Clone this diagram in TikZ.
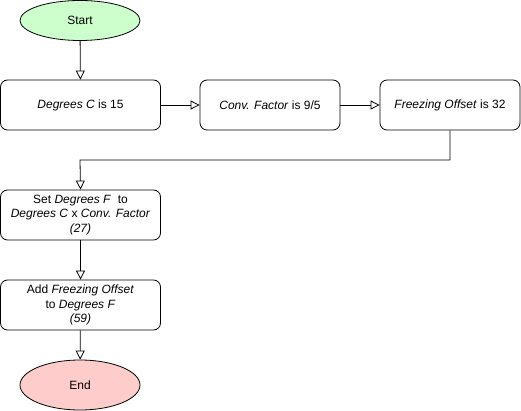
\documentclass[tikz,border=0pt]{standalone}
\usepackage{fontspec}
\setmainfont{Liberation Sans}
\usetikzlibrary{arrows.meta,shapes.geometric}
\definecolor{startfill}{HTML}{CCFFCC}
\definecolor{endfill}{HTML}{FFCCCC}
\begin{document}
\begin{tikzpicture}[x=1pt,y=-1pt,
  every node/.style={font=\fontsize{12}{14.5}\selectfont, inner sep=0pt},
  terminal/.style={ellipse, draw=black, line width=0.8pt, minimum width=120pt, minimum height=40pt},
  stepbox/.style={draw=black, line width=0.8pt, rounded corners=7pt, minimum width=160pt, minimum height=50pt, align=center},
  flow/.style={line width=0.8pt, -{Triangle[open, length=9pt, width=9pt, fill=white]}}
]
\useasboundingbox (0,0) rectangle (521,411);

\node[terminal, fill=startfill] (start) at (80,20.5) {Start};
\node[stepbox] (b1) at (80.5,105) {\textit{Degrees C} is 15};
\node[stepbox, minimum width=140pt] (b2) at (270,105) {\textit{Conv. Factor} is 9/5};
\node[stepbox, minimum width=140pt] (b3) at (450,105) {\textit{Freezing Offset} is 32};
\node[stepbox] (b4) at (80.5,215) {Set \textit{Degrees F}\ \ to\\\textit{Degrees C} x \textit{Conv. Factor}\\\textit{(27)}};
\node[stepbox] (b5) at (80.5,305) {Add \textit{Freezing Offset}\\to \textit{Degrees F}\\\textit{(59)}};
\node[terminal, fill=endfill, minimum height=50pt] (end) at (80,385) {End};

\coordinate (bend) at (80,160);

\draw[flow] (start) -- (b1);
\draw[flow] (b1) -- (b2);
\draw[flow] (b2) -- (b3);
\draw[flow] (b3.south) |- (bend) -- (b4.north);
\draw[flow] (b4) -- (b5);
\draw[flow] (b5) -- (end);
\end{tikzpicture}
\end{document}
